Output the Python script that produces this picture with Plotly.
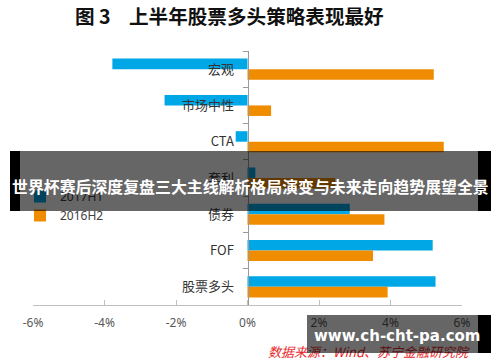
import plotly.graph_objects as go

categories = ["宏观", "市场中性", "CTA", "套利", "债券", "FOF", "股票多头"]
series_2017h1 = [-3.78, -2.32, -0.33, 0.22, 2.86, 5.18, 5.26]
series_2016h2 = [5.21, 0.66, 5.49, 2.45, 3.83, 3.51, 3.92]
x_tickvals = [-6, -4, -2, 0, 2, 4, 6]
x_ticktext = ["-6%", "-4%", "-2%", "0%", "2%", "4%", "6%"]

W, H = 500, 362
ML, MR, MT, MB = 33, 38, 51, 57
PW, PH = W - ML - MR, H - MT - MB


def px(xp):
    return (xp - ML) / PW


def py(yp):
    return (H - MB - yp) / PH


BLUE = "#00A7E6"
ORANGE = "#F08C00"
CJK = "Noto Sans CJK SC"

fig = go.Figure()
fig.add_trace(go.Bar(y=categories, x=series_2017h1, orientation="h", name="2017H1",
                     marker=dict(color=BLUE, line=dict(width=0)), legendgroup="a"))
fig.add_trace(go.Bar(y=categories, x=series_2016h2, orientation="h", name="2016H2",
                     marker=dict(color=ORANGE, line=dict(width=0)), legendgroup="b"))

fig.update_layout(
    width=W, height=H,
    margin=dict(l=ML, r=MR, t=MT, b=MB, pad=0, autoexpand=False),
    paper_bgcolor="white", plot_bgcolor="white",
    barmode="group", bargap=0.42, bargroupgap=0,
    font=dict(family=CJK, color="#333333"),
    showlegend=True,
    legend=dict(xref="container", yref="container", x=20 / W, y=1 - 182 / H,
                xanchor="left", yanchor="top",
                font=dict(size=12, color="#404040", family="Noto Sans"),
                bgcolor="rgba(0,0,0,0)", itemwidth=30, tracegroupgap=4,
                traceorder="normal"),
    xaxis=dict(range=[-6, 6], tickvals=x_tickvals, ticktext=x_ticktext,
               showgrid=False, zeroline=False, showline=True, automargin=False,
               linecolor="#BFBFBF", linewidth=1,
               ticks="inside", ticklen=5, tickcolor="#BFBFBF", ticklabelstandoff=7,
               tickfont=dict(size=12, color="#595959", family="Noto Sans")),
    yaxis=dict(type="category", autorange="reversed", anchor="free", position=0.5,
               showgrid=False, zeroline=False, showline=True, automargin=False,
               linecolor="#9A9A9A", linewidth=1,
               ticks="outside", ticklen=5, tickcolor="#9A9A9A", tickson="boundaries",
               ticklabelstandoff=11,
               tickfont=dict(size=13, color="#333333", family=CJK)),
)

ann = []
# title
ann.append(dict(x=px(73), y=py(15), xref="paper", yref="paper", xanchor="left", yanchor="middle",
                text="<b>图 3</b>", showarrow=False,
                font=dict(size=19.6, color="#111111", family=CJK)))
ann.append(dict(x=px(127), y=py(15), xref="paper", yref="paper", xanchor="left", yanchor="middle",
                text="<b>上半年股票多头策略表现最好</b>", showarrow=False,
                font=dict(size=19.6, color="#111111", family=CJK)))


def box(left, top, w, h, color):
    return dict(x=px(left), y=py(top), xref="paper", yref="paper", xanchor="left", yanchor="top",
                text=" ", showarrow=False, width=w, height=h, bgcolor=color,
                borderpad=0, borderwidth=0, font=dict(size=6))


# source text (under watermark box)
ann.append(dict(x=px(369), y=py(351), xref="paper", yref="paper", xanchor="center", yanchor="middle",
                text="<i>数据来源：Wind、苏宁金融研究院</i>", showarrow=False,
                font=dict(size=13, color="#E8282B", family=CJK)))
# banner
ann.append(box(20, 151, 458, 60, "rgba(0,0,0,0.6)"))
ann.append(box(10, 151, 10, 60, "#000000"))
ann.append(box(478, 151, 13, 60, "#000000"))
ann.append(dict(x=px(250), y=py(186), xref="paper", yref="paper", xanchor="center", yanchor="middle",
                text="<b>世界杯赛后深度复盘三大主线解析格局演变与未来走向趋势展望全景</b>",
                showarrow=False, font=dict(size=15.9, color="white", family=CJK)))
# watermark
ann.append(box(307, 315, 171, 38, "rgba(0,0,0,0.6)"))
ann.append(box(478, 315, 13, 38, "#000000"))
ann.append(dict(x=px(397), y=py(336), xref="paper", yref="paper", xanchor="center", yanchor="middle",
                text="<b>www.ch-cht-pa.com</b>", showarrow=False,
                font=dict(size=15, color="white", family="DejaVu Sans")))

fig.update_layout(annotations=ann)
fig.write_html("out.html", config={"displayModeBar": False},
               post_script="document.body.style.margin='0';document.body.style.padding='0';"
                           "document.body.style.overflow='hidden';")
